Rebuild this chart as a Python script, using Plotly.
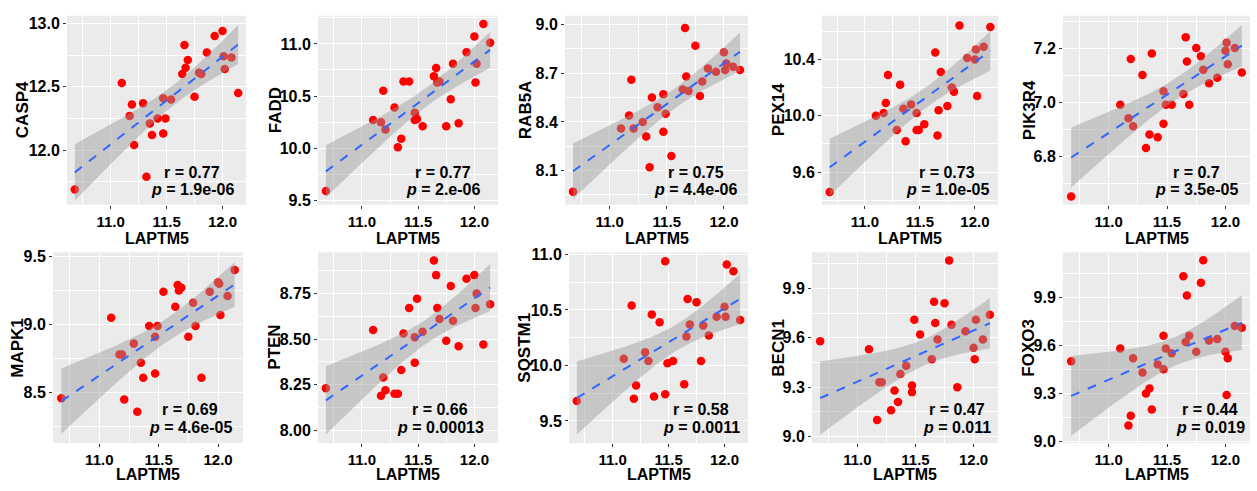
import numpy as np
import plotly.graph_objects as go

# ---------------- data ----------------
LAPTM5 = [10.68, 11.10, 11.17, 11.19, 11.21, 11.29, 11.32, 11.35, 11.37, 11.42,
          11.47, 11.47, 11.49, 11.54, 11.64, 11.66, 11.67, 11.69, 11.75, 11.79,
          11.81, 11.86, 11.93, 12.00, 12.01, 12.02, 12.08, 12.14]

CASP4 = [11.69, 12.53, 12.27, 12.36, 12.04, 12.37, 11.79, 12.21, 12.12, 12.25,
         12.41, 12.13, 12.25, 12.40, 12.60, 12.83, 12.65, 12.71, 12.42, 12.61,
         12.60, 12.77, 12.90, 12.94, 12.74, 12.64, 12.73, 12.45]
FADD = [9.59, 10.27, 10.25, 10.55, 10.18, 10.39, 10.01, 10.09, 10.64, 10.64,
        10.34, 10.27, 10.28, 10.21, 10.69, 10.77, 10.63, 10.64, 10.21, 10.47,
        10.81, 10.24, 10.92, 11.07, 10.63, 10.81, 11.19, 11.01]
RAB5A = [7.97, 8.36, 8.44, 8.66, 8.36, 8.40, 8.31, 8.12, 8.55, 8.49,
         8.57, 8.34, 8.45, 8.19, 8.60, 8.98, 8.68, 8.59, 8.87, 8.56,
         8.65, 8.73, 8.71, 8.83, 8.72, 8.76, 8.74, 8.72]
PEX14 = [9.46, 10.00, 10.02, 10.09, 10.29, 9.90, 10.22, 10.05, 9.82, 10.08,
         9.90, 10.02, 9.90, 9.94, 10.45, 9.86, 10.04, 10.31, 10.07, 10.20,
         10.17, 10.64, 10.41, 10.40, 10.47, 10.14, 10.49, 10.63]
PIK3R4 = [6.65, 6.99, 6.94, 7.16, 6.91, 7.10, 6.83, 6.88, 7.18, 6.87,
          7.04, 6.92, 6.99, 6.99, 7.03, 7.24, 7.15, 6.99, 7.20, 7.17,
          7.12, 7.07, 7.09, 7.19, 7.22, 7.14, 7.20, 7.11]
MAPK1 = [8.46, 9.05, 8.78, 8.78, 8.45, 8.86, 8.36, 8.72, 8.61, 8.99,
         8.64, 8.91, 8.99, 9.24, 9.13, 9.29, 9.25, 9.27, 8.91, 9.16,
         8.99, 8.61, 9.24, 9.31, 9.30, 9.07, 9.21, 9.40]
PTEN = [8.23, 8.55, 8.19, 8.29, 8.22, 8.20, 8.20, 8.33, 8.53, 8.67,
        8.37, 8.51, 8.72, 8.54, 8.93, 8.85, 8.67, 8.61, 8.49, 8.79,
        8.60, 8.46, 8.83, 8.85, 8.67, 8.75, 8.47, 8.69]
SQSTM1 = [9.68, 10.06, 10.54, 9.70, 9.82, 10.12, 10.04, 10.46, 9.72, 10.39,
          10.94, 9.74, 10.02, 10.04, 9.83, 10.26, 10.60, 10.37, 10.57, 10.04,
          10.36, 10.27, 10.44, 10.53, 10.44, 10.91, 10.85, 10.41]
BECN1 = [9.58, 9.53, 9.10, 9.33, 9.33, 9.16, 9.28, 9.21, 9.38, 9.43,
         9.31, 9.27, 9.71, 9.62, 9.47, 9.82, 9.69, 9.59, 9.81, 10.07,
         9.68, 9.30, 9.64, 9.54, 9.47, 9.71, 9.59, 9.74]
FOXO3 = [9.50, 9.58, 9.10, 9.16, 9.52, 9.43, 9.30, 9.33, 9.20, 9.48,
         9.66, 9.45, 9.58, 9.55, 10.03, 9.62, 9.91, 9.66, 9.56, 9.99,
         10.13, 9.63, 9.64, 9.56, 9.29, 9.52, 9.72, 9.71]

genes = ["CASP4", "FADD", "RAB5A", "PEX14", "PIK3R4",
         "MAPK1", "PTEN", "SQSTM1", "BECN1", "FOXO3"]
values = [CASP4, FADD, RAB5A, PEX14, PIK3R4, MAPK1, PTEN, SQSTM1, BECN1, FOXO3]
r_labels = ["0.77", "0.77", "0.75", "0.73", "0.7", "0.69", "0.66", "0.58", "0.47", "0.44"]
p_labels = ["1.9e-06", "2.e-06", "4.4e-06", "1.0e-05", "3.5e-05",
            "4.6e-05", "0.00013", "0.0011", "0.011", "0.019"]

x_ticks = [11.0, 11.5, 12.0]
x_tick_text = ["11.0", "11.5", "12.0"]
y_ticks = [[12.0, 12.5, 13.0], [9.5, 10.0, 10.5, 11.0], [8.1, 8.4, 8.7, 9.0],
           [9.6, 10.0, 10.4], [6.8, 7.0, 7.2], [8.5, 9.0, 9.5],
           [8.00, 8.25, 8.50, 8.75], [9.5, 10.0, 10.5, 11.0],
           [9.0, 9.3, 9.6, 9.9], [9.0, 9.3, 9.6, 9.9]]
y_tick_text = [["12.0", "12.5", "13.0"], ["9.5", "10.0", "10.5", "11.0"],
               ["8.1", "8.4", "8.7", "9.0"], ["9.6", "10.0", "10.4"],
               ["6.8", "7.0", "7.2"], ["8.5", "9.0", "9.5"],
               ["8.00", "8.25", "8.50", "8.75"], ["9.5", "10.0", "10.5", "11.0"],
               ["9.0", "9.3", "9.6", "9.9"], ["9.0", "9.3", "9.6", "9.9"]]

# ---------------- layout / style ----------------
W, H = 1257, 491
X_RANGE = [10.61, 12.21]
y_ranges = [[11.57, 13.06], [9.46, 11.27], [7.89, 9.055], [9.37, 10.71], [6.62, 7.32],
            [8.13, 9.53], [7.93, 8.975], [9.30, 11.02], [8.96, 10.12], [8.99, 10.18]]
plot_left = [67, 318, 565, 822, 1063, 53, 318, 569, 812, 1063]
plot_right = [246, 498, 748, 998, 1250, 243, 498, 748, 998, 1250]
row_top = [10, 253]
row_bottom = [204, 449]
ytitle_x = [22, 275, 525, 778, 1029, 18, 275, 525, 779, 1029]
stat_x = [192, 443, 696, 947, 1196, 190, 440, 701, 957, 1210]
stat_r_y = [171, 414]
stat_p_y = [188, 433]
xtitle_y = [239, 481]

FONT = "Liberation Sans, Arial, sans-serif"
T_CRIT = 2.056  # t(0.975, df=26)

fig = go.Figure()
annotations = []
layout = {}

for i, g in enumerate(genes):
    suf = "" if i == 0 else str(i + 1)
    row = 0 if i < 5 else 1
    xs = np.array(LAPTM5)
    ys = np.array(values[i])
    slope, intercept = np.polyfit(xs, ys, 1)
    xg = np.linspace(xs.min(), xs.max(), 100)
    yhat = intercept + slope * xg
    n = len(xs)
    resid = ys - (intercept + slope * xs)
    s = np.sqrt((resid ** 2).sum() / (n - 2))
    sxx = ((xs - xs.mean()) ** 2).sum()
    se = s * np.sqrt(1.0 / n + (xg - xs.mean()) ** 2 / sxx)
    lo, hi = yhat - T_CRIT * se, yhat + T_CRIT * se

    fig.add_trace(go.Scatter(x=xs, y=ys, mode="markers",
                             marker=dict(color="#FF0000", size=8.5, line=dict(width=0)),
                             xaxis="x" + suf, yaxis="y" + suf,
                             showlegend=False, hoverinfo="skip"))
    fig.add_trace(go.Scatter(x=np.concatenate([xg, xg[::-1]]),
                             y=np.concatenate([hi, lo[::-1]]),
                             mode="lines", fill="toself",
                             fillcolor="rgba(153,153,153,0.45)", line=dict(width=0),
                             xaxis="x" + suf, yaxis="y" + suf,
                             showlegend=False, hoverinfo="skip"))
    fig.add_trace(go.Scatter(x=xg, y=yhat, mode="lines",
                             line=dict(color="#3366FF", width=2, dash="dash"),
                             xaxis="x" + suf, yaxis="y" + suf,
                             showlegend=False, hoverinfo="skip"))

    yt = y_ticks[i]
    step = yt[1] - yt[0]
    y_minor = [yt[0] - step / 2] + [(a + b) / 2 for a, b in zip(yt[:-1], yt[1:])] + [yt[-1] + step / 2]

    tickfont = dict(family=FONT, size=15, color="black", weight="bold")
    layout["xaxis" + suf] = dict(
        domain=[plot_left[i] / W, plot_right[i] / W], range=X_RANGE,
        anchor="y" + suf, tickmode="array", tickvals=x_ticks, ticktext=x_tick_text,
        ticks="outside", ticklen=3, tickwidth=1, tickcolor="#333333",
        showgrid=True, gridcolor="white", gridwidth=1.2, zeroline=False,
        showline=False, tickfont=tickfont,
        minor=dict(tickmode="array", tickvals=[10.75, 11.25, 11.75], showgrid=True,
                   gridcolor="white", gridwidth=0.6, ticks=""))
    layout["yaxis" + suf] = dict(
        domain=[1 - row_bottom[row] / H, 1 - row_top[row] / H], range=y_ranges[i],
        anchor="x" + suf, tickmode="array", tickvals=yt, ticktext=y_tick_text[i],
        ticks="outside", ticklen=3, tickwidth=1, tickcolor="#333333",
        showgrid=True, gridcolor="white", gridwidth=1.2, zeroline=False,
        showline=False, tickfont=dict(family=FONT, size=16, color="black", weight="bold"),
        minor=dict(tickmode="array", tickvals=y_minor, showgrid=True,
                   gridcolor="white", gridwidth=0.6, ticks=""))

    cx = (plot_left[i] + plot_right[i]) / 2
    cy = (row_top[row] + row_bottom[row]) / 2
    annotations.append(dict(text=g, x=ytitle_x[i] / W, y=1 - cy / H, xref="paper", yref="paper",
                            textangle=-90, showarrow=False, xanchor="center", yanchor="middle",
                            font=dict(family=FONT, size=17, color="black", weight="bold")))
    annotations.append(dict(text="LAPTM5", x=cx / W, y=1 - xtitle_y[row] / H, xref="paper", yref="paper",
                            showarrow=False, xanchor="center", yanchor="middle",
                            font=dict(family=FONT, size=16, color="black", weight="bold")))
    annotations.append(dict(text="r = " + r_labels[i], x=stat_x[i] / W, y=1 - stat_r_y[row] / H,
                            xref="paper", yref="paper", showarrow=False,
                            xanchor="center", yanchor="middle",
                            font=dict(family=FONT, size=16, color="black", weight="bold")))
    annotations.append(dict(text="<i>p</i> = " + p_labels[i], x=stat_x[i] / W, y=1 - stat_p_y[row] / H,
                            xref="paper", yref="paper", showarrow=False,
                            xanchor="center", yanchor="middle",
                            font=dict(family=FONT, size=16, color="black", weight="bold")))

fig.update_layout(width=W, height=H, margin=dict(l=0, r=0, t=0, b=0),
                  paper_bgcolor="white", plot_bgcolor="#EBEBEB",
                  showlegend=False, annotations=annotations, **layout)

fig.write_html("out.html", config={"displayModeBar": False},
               post_script="document.body.style.margin='0';document.body.style.overflow='hidden';")
